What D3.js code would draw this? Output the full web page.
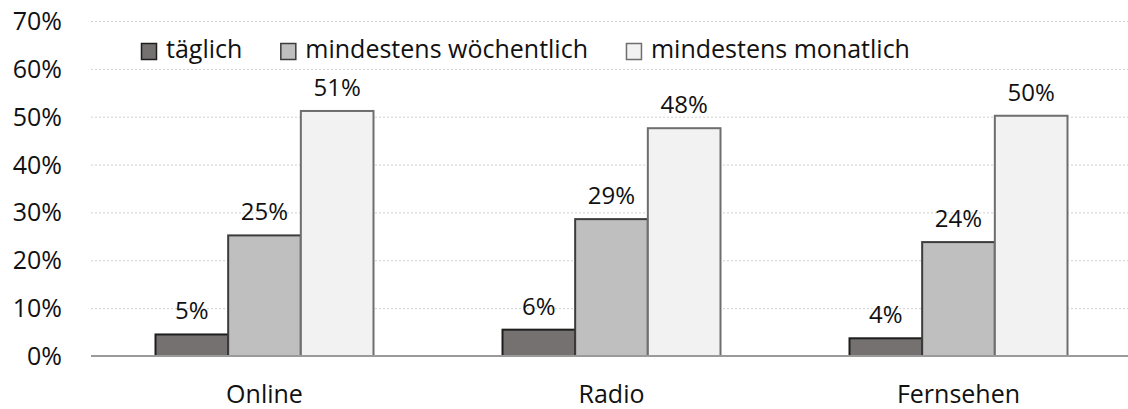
<!DOCTYPE html>
<html>
<head>
<meta charset="utf-8">
<script src="https://cdn.jsdelivr.net/npm/d3@7"></script>
<style>
  body { margin: 0; background: #fff; }
  svg { display: block; font-family: "Open Sans", "Noto Sans", sans-serif; }
</style>
</head>
<body>
<svg width="1128" height="409"></svg>
<script>
// data
var categories = ["Online", "Radio", "Fernsehen"];
var series = ["täglich", "mindestens wöchentlich", "mindestens monatlich"];
var taeglich = [4.5, 5.5, 3.7];
var woechentlich = [25.2, 28.6, 23.8];
var monatlich = [51.2, 47.6, 50.2];
var yTicks = [0, 10, 20, 30, 40, 50, 60, 70];

var fills = ["#767171", "#bfbfbf", "#f2f2f2"];
var strokes = ["#1e1e1e", "#3c3c3c", "#6e6e6e"];

var values = [taeglich, woechentlich, monatlich];

var svg = d3.select("svg"),
    margin = {top: 21, right: -4, bottom: 53, left: 91},
    width = +svg.attr("width") - margin.left - margin.right,
    height = +svg.attr("height") - margin.top - margin.bottom;

var x = d3.scaleBand().domain(categories).range([0, width]).padding(0);
var groupW = 218;
var x1 = d3.scaleBand().domain(series).range([0, groupW]).padding(0);
var y = d3.scaleLinear().domain([0, 70]).range([height, 0]);

var g = svg.append("g")
    .attr("transform", "translate(" + margin.left + "," + margin.top + ")");

// dotted gridlines
g.selectAll(".grid")
  .data(yTicks.filter(function(d) { return d > 0; }))
  .enter().append("line")
    .attr("x1", 0).attr("x2", width)
    .attr("y1", function(d) { return y(d) + 0.5; })
    .attr("y2", function(d) { return y(d) + 0.5; })
    .attr("stroke", "#cfcfcf")
    .attr("stroke-width", 1)
    .attr("stroke-dasharray", "2,2");

// y tick labels
g.selectAll(".ytick")
  .data(yTicks)
  .enter().append("text")
    .attr("x", -29)
    .attr("y", function(d) { return y(d); })
    .attr("dy", "0.36em")
    .attr("text-anchor", "end")
    .attr("font-size", 25)
    .attr("fill", "#111")
    .text(function(d) { return d + "%"; });

// bars
var groups = g.selectAll(".grp")
  .data(categories)
  .enter().append("g")
    .attr("transform", function(d) {
      return "translate(" + (x(d) + (x.bandwidth() - groupW) / 2) + ",0)";
    });

groups.each(function(cat, ci) {
  var grp = d3.select(this);
  var rows = series.map(function(s, si) { return {s: s, si: si, v: values[si][ci]}; });
  grp.selectAll("rect")
    .data(rows)
    .enter().append("rect")
      .attr("x", function(d) { return x1(d.s); })
      .attr("y", function(d) { return y(d.v); })
      .attr("width", x1.bandwidth())
      .attr("height", function(d) { return height - y(d.v); })
      .attr("fill", function(d) { return fills[d.si]; })
      .attr("stroke", function(d) { return strokes[d.si]; })
      .attr("stroke-width", 2);
  grp.selectAll(".lbl")
    .data(rows)
    .enter().append("text")
      .attr("x", function(d) { return x1(d.s) + x1.bandwidth() / 2; })
      .attr("y", function(d) { return y(d.v) - 15; })
      .attr("text-anchor", "middle")
      .attr("font-size", 24)
      .attr("fill", "#111")
      .text(function(d) { return Math.round(d.v) + "%"; });
});

// zero axis line
g.append("line")
  .attr("x1", 0).attr("x2", width)
  .attr("y1", height).attr("y2", height)
  .attr("stroke", "#9a9a9a")
  .attr("stroke-width", 2);

// category labels
g.selectAll(".cat")
  .data(categories)
  .enter().append("text")
    .attr("x", function(d) { return x(d) + x.bandwidth() / 2; })
    .attr("y", height + 47)
    .attr("text-anchor", "middle")
    .attr("font-size", 25)
    .attr("fill", "#111")
    .text(function(d) { return d; });

// legend
var legend = svg.append("g").attr("transform", "translate(141,43)");
var lx = 0;
series.forEach(function(s, i) {
  var item = legend.append("g").attr("transform", "translate(" + lx + ",0)");
  item.append("rect")
    .attr("x", 0.5).attr("y", 0.5)
    .attr("width", 15).attr("height", 16)
    .attr("fill", fills[i])
    .attr("stroke", strokes[i])
    .attr("stroke-width", 1.5);
  var t = item.append("text")
    .attr("x", 25)
    .attr("y", 15)
    .attr("font-size", 25)
    .attr("fill", "#111")
    .text(s);
  lx += 25 + t.node().getComputedTextLength() + 38;
});
</script>
</body>
</html>
